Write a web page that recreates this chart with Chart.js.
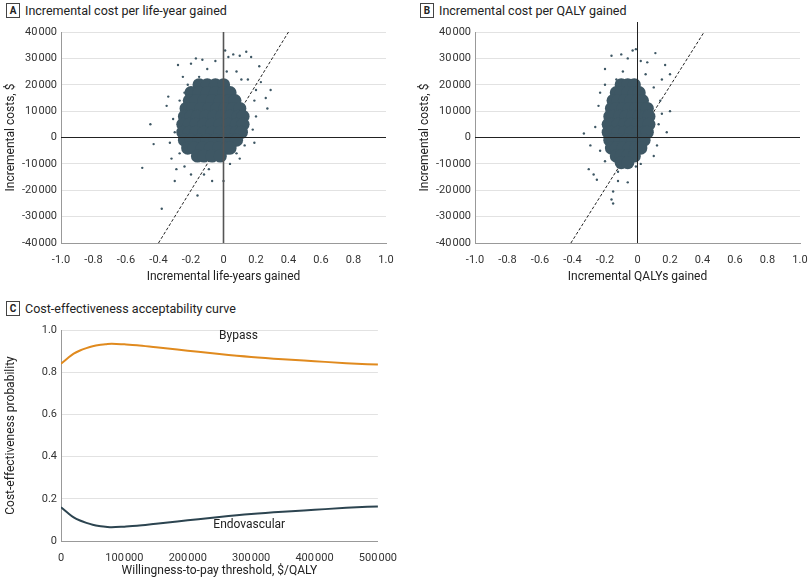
<!DOCTYPE html>
<html><head><meta charset="utf-8">
<script src="https://cdn.jsdelivr.net/npm/chart.js@4"></script>
<style>
body{margin:0;background:#fff;width:810px;height:578px;position:relative;overflow:hidden;font-family:"Liberation Sans Narrow","Roboto",sans-serif;color:#222}
.cv{position:absolute}
.t{position:absolute;font-size:12.5px;display:flex;align-items:center;gap:5px}
.t b{display:inline-block;border:1px solid #444;font-size:10px;width:12px;height:13px;line-height:13px;text-align:center}
</style></head><body>
<div class="t" style="left:6px;top:3px"><b>A</b>Incremental cost per life-year gained</div>
<div class="t" style="left:420px;top:3px"><b>B</b>Incremental cost per QALY gained</div>
<div class="t" style="left:6px;top:301px"><b>C</b>Cost-effectiveness acceptability curve</div>
<div class="cv" style="left:0;top:20px;width:400px;height:270px"><canvas id="a"></canvas></div>
<div class="cv" style="left:414px;top:20px;width:400px;height:270px"><canvas id="b"></canvas></div>
<div class="cv" style="left:0;top:310px;width:400px;height:274px"><canvas id="c"></canvas></div>
<script>
const coreA=[[-0.15,20000],[-0.1,20000],[-0.05,20000],[0,20000],
[-0.2,17000],[-0.15,17000],[-0.1,17000],[-0.05,17000],[0,17000],[0.04,17000],
[-0.21,14000],[-0.17,14000],[-0.12,14000],[-0.07,14000],[-0.02,14000],[0.03,14000],[0.07,14000],
[-0.23,11000],[-0.19,11000],[-0.14,11000],[-0.09,11000],[-0.04,11000],[0.01,11000],[0.06,11000],[0.1,11000],
[-0.24,8000],[-0.2,8000],[-0.16,8000],[-0.11,8000],[-0.06,8000],[-0.01,8000],[0.04,8000],[0.09,8000],[0.12,8000],
[-0.25,5000],[-0.21,5000],[-0.17,5000],[-0.12,5000],[-0.07,5000],[-0.02,5000],[0.03,5000],[0.08,5000],[0.12,5000],
[-0.25,2000],[-0.21,2000],[-0.17,2000],[-0.12,2000],[-0.07,2000],[-0.02,2000],[0.03,2000],[0.08,2000],[0.11,2000],
[-0.24,-1000],[-0.2,-1000],[-0.15,-1000],[-0.1,-1000],[-0.05,-1000],[0,-1000],[0.05,-1000],[0.08,-1000],
[-0.22,-4000],[-0.18,-4000],[-0.13,-4000],[-0.08,-4000],[-0.03,-4000],[0.02,-4000],[0.04,-4000],
[-0.16,-7000],[-0.12,-7000],[-0.07,-7000],[-0.02,-7000]];
const outA=[[-0.5,-11500],[-0.45,5000],[-0.43,-2500],[-0.38,-27000],[-0.35,12000],[-0.34,15500],[-0.32,-8000],[-0.3,-16500],[-0.29,-12000],[-0.28,27500],[-0.25,23000],[-0.2,28000],[-0.17,30000],[-0.13,29500],[-0.1,26000],[-0.05,29000],[0.01,33000],[0.03,30500],[0.06,31500],[0.1,31000],[0.14,32500],[0.17,30500],[0.22,27000],[0.23,21000],[0.26,15000],[0.27,11000],[0.29,18000],[0.2,8000],[0.18,3000],[0.19,-2000],[0.1,-8000],[0.04,-10000],[0,-16500],[-0.07,-16500],[-0.12,-14000],[-0.16,-22000],[-0.2,-14000],[-0.24,-11000],[-0.27,-6000],[-0.3,2000],[-0.31,7000],[-0.22,20000],[-0.15,23000],[0.08,25000],[0.15,22000],[0.19,14000],[0.2,18000],[-0.33,-2000],[-0.27,14000],[0.13,-3000],[0.08,-6000],[-0.09,-12000],[-0.24,17000],[0.11,22000],[0.02,25000]];
const coreB=[[-0.1,20000],[-0.06,20000],[-0.02,20000],
[-0.13,17000],[-0.1,17000],[-0.06,17000],[-0.02,17000],[0.01,17000],
[-0.15,14000],[-0.12,14000],[-0.08,14000],[-0.04,14000],[0,14000],[0.03,14000],
[-0.16,11000],[-0.13,11000],[-0.09,11000],[-0.05,11000],[-0.01,11000],[0.03,11000],[0.06,11000],
[-0.17,8000],[-0.15,8000],[-0.11,8000],[-0.07,8000],[-0.03,8000],[0.01,8000],[0.05,8000],[0.07,8000],
[-0.18,5000],[-0.16,5000],[-0.12,5000],[-0.08,5000],[-0.04,5000],[0,5000],[0.04,5000],[0.07,5000],
[-0.18,2000],[-0.16,2000],[-0.12,2000],[-0.08,2000],[-0.04,2000],[0,2000],[0.04,2000],[0.06,2000],
[-0.17,-1000],[-0.15,-1000],[-0.11,-1000],[-0.07,-1000],[-0.03,-1000],[0.01,-1000],[0.04,-1000],
[-0.16,-4000],[-0.13,-4000],[-0.09,-4000],[-0.05,-4000],[-0.01,-4000],[0.02,-4000],
[-0.13,-7000],[-0.1,-7000],[-0.06,-7000],[-0.02,-7000],
[-0.1,-9500],[-0.06,-9500]];
const outB=[[-0.33,1500],[-0.3,-12000],[-0.29,-3000],[-0.27,-14000],[-0.25,-16000],[-0.24,12000],[-0.2,26000],[-0.16,31000],[-0.15,-20500],[-0.16,-23500],[-0.15,-25000],[-0.12,-16500],[-0.06,-17000],[-0.01,-11000],[0.02,-10000],[-0.03,33000],[-0.01,33500],[0.02,29000],[0.06,28500],[0.11,32000],[0.15,22000],[0.2,24000],[0.2,10000],[0.18,2000],[0.17,27500],[0.1,-7000],[0.12,-3000],[0.13,5000],[-0.1,31500],[-0.06,30000],[-0.23,-5000],[-0.26,4000],[-0.2,20000],[-0.23,17000],[0.05,24000],[0.1,19000],[0.14,14000],[-0.12,-13000],[-0.2,-9000],[0.15,9000],[-0.09,25000],[-0.13,22000]];
const thrA=[[-0.4,-40000],[0.4,40000]];
const thrB=[[-0.41,-40000],[0.41,40000]];
const wtp=[0,10000,20000,30000,40000,50000,60000,70000,80000,100000,120000,150000,200000,250000,300000,350000,400000,450000,500000];
const bypass=[0.84,0.865,0.888,0.903,0.914,0.923,0.929,0.932,0.935,0.932,0.928,0.918,0.902,0.886,0.872,0.861,0.852,0.843,0.836];
const endo=[0.16,0.135,0.112,0.097,0.086,0.077,0.071,0.068,0.065,0.068,0.072,0.082,0.098,0.114,0.128,0.139,0.148,0.157,0.164];
const FONT="'Liberation Sans Narrow', Roboto, sans-serif";
const DOT='#3e5764';
const fmt=v=>{const s=Math.abs(v)>=10000?String(Math.abs(v)).replace(/(\d)(?=(\d{3})+$)/g,'$1\u200A'):String(Math.abs(v));return (v<0?'-':'')+s;};
const pts=a=>a.map(p=>({x:p[0],y:p[1]}));
const zeroLines={id:'z',afterDatasetsDraw(ch,args,o){const {ctx,scales:{x,y}}=ch;ctx.save();ctx.strokeStyle='#222';ctx.lineWidth=1;
 const y0=y.getPixelForValue(0),x0=x.getPixelForValue(0);
 ctx.beginPath();ctx.moveTo(x.left,y0);ctx.lineTo(x.right,y0);ctx.stroke();
 ctx.strokeStyle=o.vc||'#222';ctx.lineWidth=o.vw||1;ctx.beginPath();ctx.moveTo(x0,y.top-(o.ext||0));ctx.lineTo(x0,y.bottom);ctx.stroke();ctx.restore();}};
function scatter(id,core,out,thr,xt,ext,vc,vw){
 new Chart(document.getElementById(id),{type:'scatter',
 data:{datasets:[
  {data:pts(core),pointRadius:6.6,backgroundColor:DOT,borderWidth:0,pointHoverRadius:6.6},
  {data:pts(out),pointRadius:1.2,backgroundColor:DOT,borderWidth:0},
  {data:pts(thr),showLine:true,pointRadius:0,borderColor:'#222',borderWidth:1,borderDash:[3,2]}]},
 options:{responsive:true,maintainAspectRatio:false,animation:false,events:[],
  layout:{padding:{top:12,right:14,bottom:2,left:0}},
  plugins:{legend:{display:false},tooltip:{enabled:false},z:{ext:ext,vc:vc,vw:vw}},
  scales:{
   x:{type:'linear',min:-1,max:1,afterFit:s=>{s.height=45;},grid:{display:false,drawTicks:true},border:{color:'#999'},
     ticks:{stepSize:0.2,color:'#333',font:{family:FONT,size:11},callback:v=>Math.abs(v)<1e-9?'0':v.toFixed(1)},
     title:{display:true,text:xt,color:'#222',font:{family:FONT,size:12},padding:{top:2}}},
   y:{min:-40000,max:40000,afterFit:s=>{s.width=61;},grid:{color:'#e2e2e2',drawTicks:false},border:{color:'#999'},
     ticks:{stepSize:10000,color:'#333',padding:4,font:{family:FONT,size:11},callback:fmt},
     title:{display:true,text:'Incremental costs, $',color:'#222',font:{family:FONT,size:12},padding:{bottom:2}}}}},
 plugins:[zeroLines]});
}
scatter('a',coreA,outA,thrA,'Incremental life-years gained',0,'#555',1.6);
scatter('b',coreB,outB,thrB,'Incremental QALYs gained',10,'#222',1);
const labels={id:'lb',afterDatasetsDraw(ch){const {ctx,scales:{x,y}}=ch;ctx.save();ctx.fillStyle='#222';ctx.font='12px '+FONT;ctx.textAlign='center';ctx.textBaseline='middle';
 ctx.fillText('Bypass',x.getPixelForValue(280000),y.getPixelForValue(0.97));
 ctx.fillText('Endovascular',x.getPixelForValue(297000),y.getPixelForValue(0.075));ctx.restore();}};
new Chart(document.getElementById('c'),{type:'line',
 data:{datasets:[
  {data:wtp.map((v,i)=>({x:v,y:bypass[i]})),borderColor:'#e08a1e',borderWidth:2,pointRadius:0,tension:0.4,cubicInterpolationMode:'monotone'},
  {data:wtp.map((v,i)=>({x:v,y:endo[i]})),borderColor:'#2c4450',borderWidth:2,pointRadius:0,tension:0.4,cubicInterpolationMode:'monotone'}]},
 options:{responsive:true,maintainAspectRatio:false,animation:false,events:[],
  layout:{padding:{top:20,right:14,bottom:2,left:0}},
  plugins:{legend:{display:false},tooltip:{enabled:false}},
  scales:{
   x:{type:'linear',min:0,max:500000,afterFit:s=>{s.height=41;},grid:{display:false},border:{color:'#999'},
     ticks:{stepSize:100000,color:'#333',font:{family:FONT,size:11},callback:fmt},
     title:{display:true,text:'Willingness-to-pay threshold, $/QALY',color:'#222',font:{family:FONT,size:12},padding:{top:2}}},
   y:{min:0,max:1,afterFit:s=>{s.width=61;},grid:{color:'#e2e2e2',drawTicks:false},border:{color:'#999'},
     ticks:{stepSize:0.2,color:'#333',padding:4,font:{family:FONT,size:11},callback:v=>v===0?'0':v.toFixed(1)},
     title:{display:true,text:'Cost-effectiveness probability',color:'#222',font:{family:FONT,size:12},padding:{bottom:6}}}}},
 plugins:[labels]});
</script></body></html>
